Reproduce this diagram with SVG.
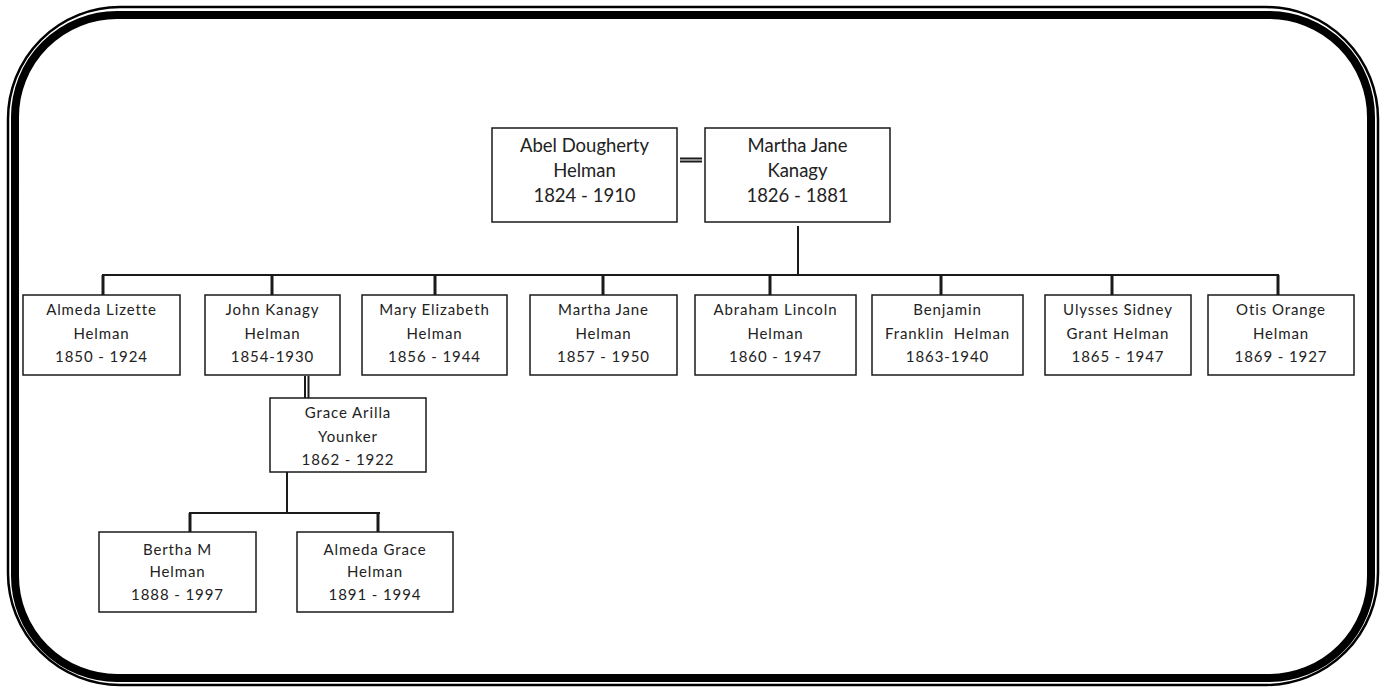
<svg xmlns="http://www.w3.org/2000/svg" width="1387" height="689" viewBox="0 0 1387 689">
<style>
.box{fill:#fff;stroke:#1a1a1a;stroke-width:1.5}
.t{font-family:Lato,"Open Sans","Liberation Sans",sans-serif;fill:#222;text-anchor:middle}
.p{font-size:18.5px}
.c{font-size:15px;letter-spacing:0.9px}
.ln{stroke:#1a1a1a;stroke-width:2;fill:none}
.dr{stroke:#1a1a1a;stroke-width:3;fill:none}
</style>
<rect x="0" y="0" width="1387" height="689" fill="#fff"/>
<g id="frame" fill="none" stroke="#000">
<rect x="8" y="7" width="1370" height="678" rx="112" ry="112" stroke-width="2.5"/>
<rect x="15" y="15" width="1356" height="663" rx="102" ry="102" stroke-width="8"/>
</g>
<g id="connectors">
<line class="ln" x1="680" y1="158.5" x2="702" y2="158.5" stroke-width="1.6"/>
<line class="ln" x1="680" y1="161.5" x2="702" y2="161.5" stroke-width="1.6"/>
<line class="ln" x1="798" y1="226" x2="798" y2="275"/>
<line class="ln" x1="102" y1="275" x2="1279" y2="275"/>
<line class="dr" x1="103" y1="275" x2="103" y2="295"/>
<line class="dr" x1="272" y1="275" x2="272" y2="295"/>
<line class="dr" x1="435" y1="275" x2="435" y2="295"/>
<line class="dr" x1="603" y1="275" x2="603" y2="295"/>
<line class="dr" x1="770" y1="275" x2="770" y2="295"/>
<line class="dr" x1="941" y1="275" x2="941" y2="295"/>
<line class="dr" x1="1112" y1="275" x2="1112" y2="295"/>
<line class="dr" x1="1278" y1="275" x2="1278" y2="295"/>
<line class="ln" x1="305" y1="376" x2="305" y2="398" stroke-width="1.6"/>
<line class="ln" x1="308.5" y1="376" x2="308.5" y2="398" stroke-width="1.6"/>
<line class="ln" x1="287" y1="472" x2="287" y2="513"/>
<line class="ln" x1="189" y1="513" x2="380" y2="513"/>
<line class="dr" x1="190" y1="513" x2="190" y2="532"/>
<line class="dr" x1="378" y1="513" x2="378" y2="532"/>
</g>
<g id="abel">
<rect class="box" x="492" y="128" width="185" height="94"/>
<text class="t p" x="584.5" y="152">Abel Dougherty</text>
<text class="t p" x="584.5" y="177">Helman</text>
<text class="t p" x="584.5" y="202">1824 - 1910</text>
</g>
<g id="martha-kanagy">
<rect class="box" x="705" y="128" width="185" height="94"/>
<text class="t p" x="797.5" y="152">Martha Jane</text>
<text class="t p" x="797.5" y="177">Kanagy</text>
<text class="t p" x="797.5" y="202">1826 - 1881</text>
</g>
<g id="almeda-lizette">
<rect class="box" x="23" y="295" width="157" height="80"/>
<text class="t c" x="101.5" y="315">Almeda Lizette</text>
<text class="t c" x="101.5" y="339">Helman</text>
<text class="t c" x="101.5" y="362">1850 - 1924</text>
</g>
<g id="john-kanagy">
<rect class="box" x="205" y="295" width="135" height="80"/>
<text class="t c" x="272.5" y="315">John Kanagy</text>
<text class="t c" x="272.5" y="339">Helman</text>
<text class="t c" x="272.5" y="362">1854-1930</text>
</g>
<g id="mary-elizabeth">
<rect class="box" x="362" y="295" width="145" height="80"/>
<text class="t c" x="434.5" y="315">Mary Elizabeth</text>
<text class="t c" x="434.5" y="339">Helman</text>
<text class="t c" x="434.5" y="362">1856 - 1944</text>
</g>
<g id="martha-jane-helman">
<rect class="box" x="530" y="295" width="147" height="80"/>
<text class="t c" x="603.5" y="315">Martha Jane</text>
<text class="t c" x="603.5" y="339">Helman</text>
<text class="t c" x="603.5" y="362">1857 - 1950</text>
</g>
<g id="abraham-lincoln">
<rect class="box" x="695" y="295" width="161" height="80"/>
<text class="t c" x="775.5" y="315">Abraham Lincoln</text>
<text class="t c" x="775.5" y="339">Helman</text>
<text class="t c" x="775.5" y="362">1860 - 1947</text>
</g>
<g id="benjamin-franklin">
<rect class="box" x="872" y="295" width="151" height="80"/>
<text class="t c" x="947.5" y="315">Benjamin</text>
<text class="t c" x="947.5" y="339" xml:space="preserve">Franklin  Helman</text>
<text class="t c" x="947.5" y="362">1863-1940</text>
</g>
<g id="ulysses-sidney">
<rect class="box" x="1045" y="295" width="146" height="80"/>
<text class="t c" x="1118" y="315">Ulysses Sidney</text>
<text class="t c" x="1118" y="339">Grant Helman</text>
<text class="t c" x="1118" y="362">1865 - 1947</text>
</g>
<g id="otis-orange">
<rect class="box" x="1208" y="295" width="146" height="80"/>
<text class="t c" x="1281" y="315">Otis Orange</text>
<text class="t c" x="1281" y="339">Helman</text>
<text class="t c" x="1281" y="362">1869 - 1927</text>
</g>
<g id="grace-arilla">
<rect class="box" x="270" y="398" width="156" height="74"/>
<text class="t c" x="348" y="418">Grace Arilla</text>
<text class="t c" x="348" y="442">Younker</text>
<text class="t c" x="348" y="465">1862 - 1922</text>
</g>
<g id="bertha-m">
<rect class="box" x="99" y="532" width="157" height="80"/>
<text class="t c" x="177.5" y="555">Bertha M</text>
<text class="t c" x="177.5" y="577">Helman</text>
<text class="t c" x="177.5" y="600">1888 - 1997</text>
</g>
<g id="almeda-grace">
<rect class="box" x="297" y="532" width="156" height="80"/>
<text class="t c" x="375" y="555">Almeda Grace</text>
<text class="t c" x="375" y="577">Helman</text>
<text class="t c" x="375" y="600">1891 - 1994</text>
</g>
</svg>
